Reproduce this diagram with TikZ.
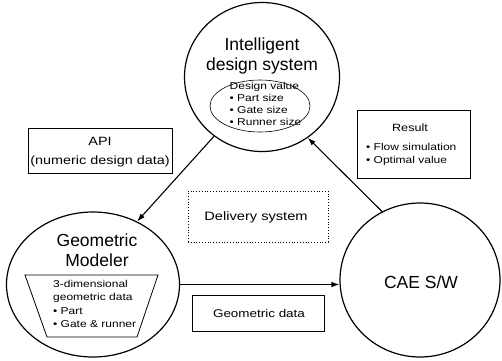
\documentclass[tikz,border=0pt]{standalone}
\usepackage{fontspec}
\setmainfont{Liberation Sans}
\newfontfamily\wf[FakeStretch=1.2]{Liberation Sans}
\usetikzlibrary{shapes.geometric,arrows.meta}
\begin{document}
\begin{tikzpicture}[x=1pt,y=-1pt,
  bigcirc/.style={draw,ellipse,line width=1.2pt,inner sep=0pt},
  title/.style={font=\fontsize{17.5}{20.5}\selectfont,align=center,inner sep=0pt},
  small/.style={font=\wf\fontsize{10}{11.7}\selectfont,align=left,inner sep=0pt},
  infobox/.style={draw,line width=0.7pt,inner sep=0pt},
  conn/.style={line width=1.1pt,-{Latex[length=8pt,width=5.5pt]}}]
\useasboundingbox (0,0) rectangle (502,360);
% circles
\node[bigcirc,minimum width=155pt,minimum height=149pt] (ids) at (262,77) {};
\node[bigcirc,minimum width=173pt,minimum height=145pt] (geo) at (93,284.5) {};
\node[bigcirc,minimum width=160pt,minimum height=154pt] (cae) at (420,280) {};
% titles
\node[title] (idst) at (262,56) {Intelligent\\design system};
\node[title] (geot) at (97,250) {Geometric\\Modeler};
\node[title] (caet) at (421,282) {CAE S/W};
% inner ellipse
\node[draw,ellipse,line width=0.6pt,minimum width=100pt,minimum height=52pt,inner sep=0pt] (dv) at (260,106) {};
\node[small,anchor=north west] (dvt) at (229.5,82.5) {Design value\\ • Part size\\ • Gate size\\ • Runner size};
% trapezoid
\coordinate (tq1) at (25,275);
\coordinate (tq2) at (158,275);
\coordinate (tq3) at (137,337);
\coordinate (tq4) at (47,337);
\draw[line width=0.8pt] (tq1) -- (tq2) -- (tq3) -- (tq4) -- cycle;
\node[small,anchor=north west,font=\wf\fontsize{10}{13.5}\selectfont] (trt) at (53,280) {3-dimensional\\geometric data\\• Part\\• Gate \& runner};
% boxes
\node[infobox,minimum width=144pt,minimum height=45pt] (api) at (100,150.5) {};
\node[align=center,inner sep=0pt,font=\wf\fontsize{12}{19}\selectfont] (apit) at (100,152) {API\\(numeric design data)};
\node[infobox,minimum width=113pt,minimum height=68pt] (res) at (413.5,144) {};
\node[inner sep=0pt,font=\wf\fontsize{10.5}{12}\selectfont] (rest) at (410,128) {Result};
\node[small,anchor=north west,font=\wf\fontsize{10}{13}\selectfont] (resb) at (366,143) {• Flow simulation\\• Optimal value};
\node[draw,dotted,line width=0.8pt,minimum width=140pt,minimum height=51pt,inner sep=0pt] (del) at (258,216.5) {};
\node[inner sep=0pt,font=\wf\fontsize{12.2}{14}\selectfont] (delt) at (256,217) {Delivery system};
\node[infobox,minimum width=132pt,minimum height=36pt] (gd) at (258,313) {};
\node[inner sep=0pt,font=\wf\fontsize{11.2}{13}\selectfont] (gdt) at (259,313) {Geometric data};
% connectors
\draw[conn] (ids.231) -- (geo.55);
\draw[conn] (cae.119) -- (ids.307);
\draw[conn] (geo.east) -- (geo.east -| cae.west);
\end{tikzpicture}
\end{document}
